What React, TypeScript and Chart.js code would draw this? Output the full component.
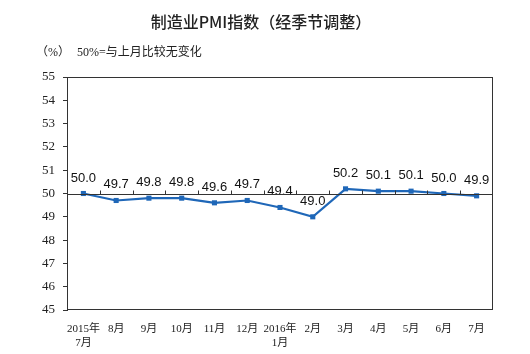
import React, { useEffect, useRef } from "react";
import { Chart, registerables } from "chart.js";

Chart.register(...registerables);

const title = "制造业PMI指数（经季节调整）";
const unitLabel = "（%）";
const noteLabel = "50%=与上月比较无变化";
const categories: (string | string[])[] = [
  ["2015年", "7月"], "8月", "9月", "10月", "11月", "12月", ["2016年", "1月"],
  "2月", "3月", "4月", "5月", "6月", "7月",
];
const pmiValues = [50.0, 49.7, 49.8, 49.8, 49.6, 49.7, 49.4, 49.0, 50.2, 50.1, 50.1, 50.0, 49.9];
const yMin = 45;
const yMax = 55;
const baseline = 50;

const BLUE = "#1f67b8";

const decorPlugin = {
  id: "decor",
  afterDraw(chart: any) {
    const { ctx, chartArea, scales } = chart;
    const x = scales.x;
    const y = scales.y;
    ctx.save();
    ctx.fillStyle = "#222";
    ctx.font = "500 16px 'Noto Sans CJK SC'";
    ctx.textAlign = "center";
    ctx.textBaseline = "middle";
    ctx.fillText(title, 261, 22);
    ctx.font = "12px 'Liberation Serif', 'Noto Sans CJK SC'";
    ctx.textAlign = "left";
    ctx.fillText(unitLabel, 36, 53);
    ctx.fillText(noteLabel, 77, 53);
    ctx.strokeStyle = "#333";
    ctx.lineWidth = 1;
    ctx.strokeRect(chartArea.left + 0.5, chartArea.top + 0.5, chartArea.right - chartArea.left - 1, chartArea.bottom - chartArea.top - 1);
    const by = Math.round(y.getPixelForValue(baseline)) + 0.5;
    ctx.beginPath();
    ctx.moveTo(chartArea.left, by);
    ctx.lineTo(chartArea.right, by);
    for (let i = 0; i < categories.length - 1; i++) {
      const px = Math.round((x.getPixelForValue(i) + x.getPixelForValue(i + 1)) / 2) + 0.5;
      ctx.moveTo(px, by);
      ctx.lineTo(px, by - 4);
    }
    ctx.stroke();
    ctx.restore();
  },
  afterDatasetsDraw(chart: any) {
    const { ctx } = chart;
    const meta = chart.getDatasetMeta(0);
    ctx.save();
    ctx.fillStyle = "#111";
    ctx.font = "13px 'Liberation Sans', Arial";
    ctx.textAlign = "center";
    ctx.textBaseline = "alphabetic";
    meta.data.forEach((pt: any, i: number) => {
      ctx.fillText(pmiValues[i].toFixed(1), pt.x, pt.y - 12);
    });
    ctx.restore();
  },
};

export default function App() {
  const ref = useRef<HTMLCanvasElement>(null);
  useEffect(() => {
    document.body.style.margin = "0";
    const chart = new Chart(ref.current!, {
      type: "line",
      data: {
        labels: categories,
        datasets: [
          {
            data: pmiValues,
            borderColor: BLUE,
            backgroundColor: BLUE,
            borderWidth: 2.2,
            pointStyle: "rect",
            pointRadius: 3.6,
            pointBorderWidth: 0,
            tension: 0,
          },
        ],
      },
      options: {
        responsive: false,
        animation: false,
        layout: { padding: { top: 77, right: 37, left: 0, bottom: 0 } },
        plugins: { legend: { display: false }, tooltip: { enabled: false }, title: { display: false } },
        scales: {
          x: {
            type: "category",
            offset: true,
            grid: { display: false },
            border: { display: false },
            ticks: {
              color: "#222",
              font: { family: "'Liberation Serif', 'Noto Sans CJK SC'", size: 11 },
              maxRotation: 0,
              autoSkip: false,
              padding: 5,
            },
            afterFit(s: any) { s.height = 44; },
          },
          y: {
            min: yMin,
            max: yMax,
            grid: { drawOnChartArea: false, drawTicks: true, tickLength: 4, color: "#333" },
            border: { display: true, color: "#333" },
            ticks: {
              stepSize: 1,
              color: "#222",
              font: { family: "'Liberation Serif'", size: 13 },
              padding: 8,
            },
            afterFit(s: any) { s.width = 67; },
          },
        },
      },
      plugins: [decorPlugin],
    });
    return () => chart.destroy();
  }, []);
  return <canvas ref={ref} width={530} height={354} style={{ display: "block" }} />;
}
